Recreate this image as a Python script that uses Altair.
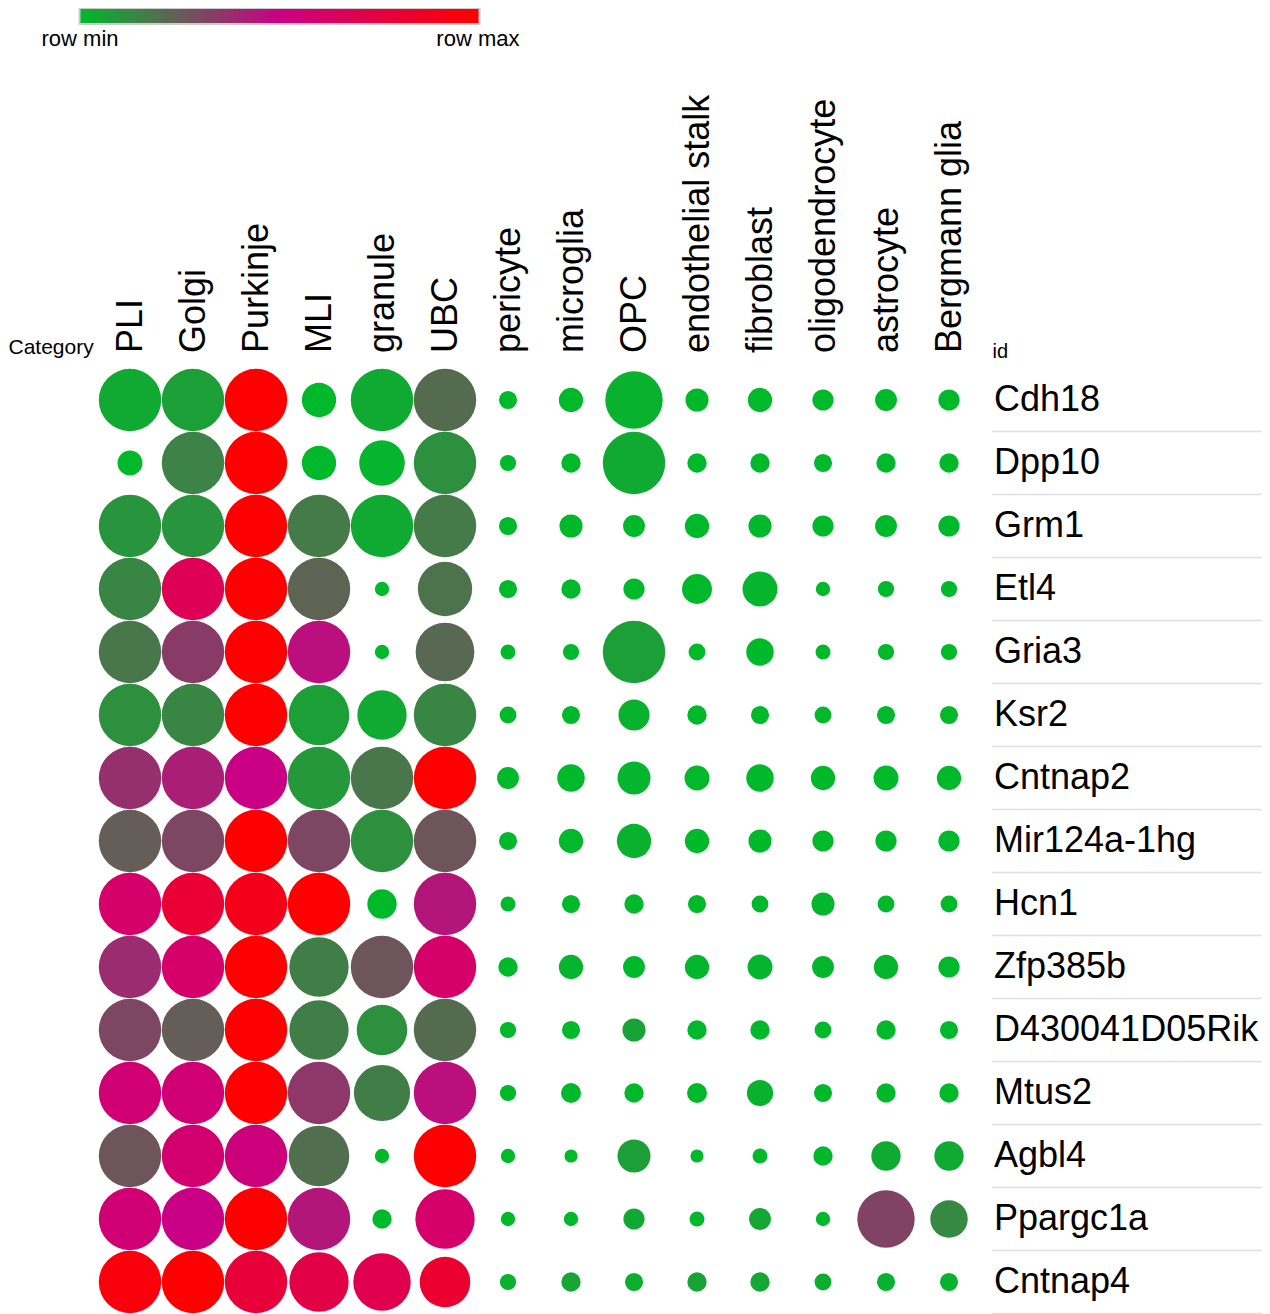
import pandas as pd
import altair as alt

# ── data ─────────────────────────────────────────────────────────────────────

CATEGORIES = [
    "PLI", "Golgi", "Purkinje", "MLI", "granule", "UBC", "pericyte",
    "microglia", "OPC", "endothelial stalk", "fibroblast",
    "oligodendrocyte", "astrocyte", "Bergmann glia",
]

GENES = [
    "Cdh18", "Dpp10", "Grm1", "Etl4", "Gria3", "Ksr2", "Cntnap2",
    "Mir124a-1hg", "Hcn1", "Zfp385b", "D430041D05Rik", "Mtus2", "Agbl4",
    "Ppargc1a", "Cntnap4",
]

# dot size: fraction of cells expressing (1.0 = full cell)
FRACTION = [
    [1.00, 1.00, 1.00, 0.55, 1.00, 1.00, 0.29, 0.39, 0.92, 0.37, 0.39, 0.34, 0.35, 0.34],
    [0.40, 1.00, 1.00, 0.55, 0.73, 1.00, 0.26, 0.31, 1.00, 0.31, 0.31, 0.29, 0.31, 0.31],
    [1.00, 1.00, 1.00, 1.00, 1.00, 1.00, 0.29, 0.37, 0.35, 0.39, 0.37, 0.34, 0.35, 0.34],
    [1.00, 1.00, 1.00, 1.00, 0.23, 0.87, 0.29, 0.31, 0.34, 0.48, 0.56, 0.23, 0.26, 0.26],
    [1.00, 1.00, 1.00, 1.00, 0.23, 0.94, 0.24, 0.26, 1.00, 0.27, 0.44, 0.24, 0.26, 0.26],
    [1.00, 1.00, 1.00, 0.97, 0.79, 1.00, 0.27, 0.29, 0.50, 0.31, 0.29, 0.27, 0.29, 0.29],
    [1.00, 1.00, 1.00, 1.00, 1.00, 1.00, 0.35, 0.44, 0.53, 0.40, 0.44, 0.39, 0.40, 0.39],
    [1.00, 1.00, 1.00, 1.00, 1.00, 1.00, 0.29, 0.39, 0.55, 0.39, 0.37, 0.34, 0.34, 0.34],
    [1.00, 1.00, 1.00, 1.00, 0.47, 1.00, 0.24, 0.29, 0.31, 0.29, 0.27, 0.37, 0.27, 0.27],
    [1.00, 1.00, 1.00, 0.95, 1.00, 1.00, 0.31, 0.39, 0.35, 0.39, 0.40, 0.35, 0.39, 0.34],
    [1.00, 1.00, 1.00, 0.95, 0.81, 1.00, 0.26, 0.29, 0.37, 0.31, 0.31, 0.27, 0.31, 0.29],
    [1.00, 1.00, 1.00, 1.00, 0.90, 1.00, 0.26, 0.32, 0.31, 0.32, 0.42, 0.29, 0.31, 0.31],
    [1.00, 1.00, 1.00, 0.97, 0.23, 1.00, 0.23, 0.21, 0.53, 0.21, 0.24, 0.31, 0.47, 0.47],
    [1.00, 1.00, 1.00, 1.00, 0.31, 0.95, 0.23, 0.23, 0.34, 0.24, 0.35, 0.23, 0.92, 0.60],
    [1.00, 1.00, 1.00, 0.95, 0.92, 0.81, 0.26, 0.31, 0.29, 0.31, 0.31, 0.27, 0.29, 0.29],
]

# dot colour: expression scaled within the row (0 = row min, 1 = row max)
ROW_SCALED = [
    [0.04, 0.07, 1.00, 0.00, 0.04, 0.21, 0.00, 0.00, 0.02, 0.00, 0.00, 0.00, 0.00, 0.00],
    [0.00, 0.15, 1.00, 0.00, 0.01, 0.11, 0.00, 0.00, 0.04, 0.00, 0.00, 0.00, 0.00, 0.00],
    [0.10, 0.10, 1.00, 0.17, 0.04, 0.17, 0.00, 0.00, 0.00, 0.00, 0.00, 0.00, 0.00, 0.00],
    [0.14, 0.68, 1.00, 0.23, 0.00, 0.19, 0.00, 0.00, 0.00, 0.00, 0.01, 0.00, 0.00, 0.00],
    [0.18, 0.34, 1.00, 0.46, 0.00, 0.22, 0.00, 0.00, 0.07, 0.00, 0.00, 0.00, 0.00, 0.00],
    [0.11, 0.14, 1.00, 0.07, 0.04, 0.14, 0.00, 0.00, 0.02, 0.00, 0.00, 0.00, 0.00, 0.00],
    [0.37, 0.42, 0.50, 0.09, 0.18, 1.00, 0.00, 0.00, 0.01, 0.00, 0.00, 0.00, 0.00, 0.00],
    [0.25, 0.31, 1.00, 0.31, 0.11, 0.27, 0.00, 0.00, 0.02, 0.00, 0.00, 0.00, 0.00, 0.00],
    [0.60, 0.80, 0.90, 1.00, 0.00, 0.44, 0.00, 0.00, 0.00, 0.00, 0.00, 0.01, 0.00, 0.00],
    [0.38, 0.60, 1.00, 0.16, 0.27, 0.60, 0.00, 0.01, 0.00, 0.01, 0.01, 0.01, 0.01, 0.00],
    [0.31, 0.25, 1.00, 0.16, 0.11, 0.21, 0.00, 0.00, 0.06, 0.00, 0.00, 0.00, 0.00, 0.00],
    [0.56, 0.56, 1.00, 0.35, 0.16, 0.46, 0.00, 0.00, 0.00, 0.00, 0.02, 0.00, 0.00, 0.00],
    [0.27, 0.58, 0.53, 0.20, 0.00, 1.00, 0.00, 0.00, 0.07, 0.00, 0.00, 0.00, 0.04, 0.04],
    [0.56, 0.50, 1.00, 0.44, 0.00, 0.60, 0.00, 0.00, 0.04, 0.00, 0.05, 0.00, 0.32, 0.13],
    [0.95, 1.00, 0.78, 0.73, 0.71, 0.82, 0.02, 0.05, 0.03, 0.06, 0.05, 0.03, 0.02, 0.02],
]

LEGEND_ENDS = ["row min", "row max"]

# ── styling ──────────────────────────────────────────────────────────────────

FONT = "Liberation Sans"
GREEN = "#00B92B"
MAGENTA = "#CA0084"
RED = "#FF0000"
SEP_GRAY = "#e0e0e0"

CELL = 63
PLOT_W = CELL * len(CATEGORIES)
PLOT_H = CELL * len(GENES)
PAD_LEFT = 90.5
PAD_TOP = 360.5
TOTAL_W = 1254
LABEL_SIZE = 36
# caption is wider than the bar; the legend box starts at the caption's edge
CAPTION_OVERHANG = 38.5

rows = []
for gene, fracs, scaled in zip(GENES, FRACTION, ROW_SCALED):
    for cat, f, s in zip(CATEGORIES, fracs, scaled):
        rows.append({"id": gene, "Category": cat, "fraction": f, "scaled": s})
df = pd.DataFrame(rows)

band = alt.Scale(paddingInner=0, paddingOuter=0)

y_axis = alt.Axis(
    orient="right", ticks=False, domain=False,
    labelFontSize=LABEL_SIZE, labelFont=FONT, labelColor="black",
    labelPadding=13, labelLimit=400,
    title="id", titleAngle=0, titleFontSize=20, titleFont=FONT,
    titleFontWeight="normal", titleColor="black", titleAlign="left",
    titleBaseline="alphabetic", titleX=11.5, titleY=-11.5,
)

x_axis = alt.Axis(
    orient="top", ticks=False, domain=False,
    labelAngle=-90, labelFontSize=LABEL_SIZE, labelFont=FONT,
    labelColor="black", labelPadding=16, labelLimit=400,
    title="Category", titleAngle=0, titleFontSize=21, titleFont=FONT,
    titleFontWeight="normal", titleColor="black", titleAlign="left",
    titleBaseline="alphabetic", titleX=-PAD_LEFT, titleY=-15,
)

# the two end captions sit centred under the bar ends; non-breaking spaces
# keep them apart in a single legend title line
legend_caption = LEGEND_ENDS[0] + "\u00a0" * 52 + LEGEND_ENDS[1]

colour = alt.Color(
    "scaled:Q",
    scale=alt.Scale(domain=[0, 0.5, 1], range=[GREEN, MAGENTA, RED],
                    interpolate="rgb"),
    legend=alt.Legend(
        orient="none", direction="horizontal",
        legendX=80 - 8 - PAD_LEFT - CAPTION_OVERHANG, legendY=-PAD_TOP,
        gradientLength=400, gradientThickness=16,
        gradientStrokeColor="#cccccc", gradientStrokeWidth=2,
        values=[0, 1], labelExpr="''", labelFontSize=1, labelOffset=0,
        padding=0,
        title=legend_caption, titleOrient="bottom", titleAnchor="middle",
        titleAlign="center", titleBaseline="top", titlePadding=4,
        titleFontSize=22, titleFont=FONT, titleFontWeight="normal",
        titleColor="black", titleLimit=700,
    ),
)

dots = (
    alt.Chart(df)
    .mark_circle(opacity=1)
    .encode(
        x=alt.X("Category:N", sort=CATEGORIES, scale=band, axis=x_axis),
        y=alt.Y("id:N", sort=GENES, scale=band, axis=y_axis),
        # circle symbol size is the square of its diameter
        size=alt.Size(
            "fraction:Q",
            scale=alt.Scale(type="pow", exponent=2, domain=[0, 1],
                            range=[0, 3900]),
            legend=None,
        ),
        color=colour,
    )
)

# light separators under each row label
separators = (
    alt.Chart(pd.DataFrame({"id": GENES}))
    .mark_rule(color=SEP_GRAY, strokeWidth=1.5)
    .encode(
        y=alt.Y("id:N", sort=GENES, scale=band, axis=y_axis, bandPosition=1),
        x=alt.value(PLOT_W + 11.5),
        x2=alt.value(TOTAL_W - PAD_LEFT),
    )
)

chart = (
    alt.layer(separators, dots)
    .properties(
        width=PLOT_W, height=PLOT_H,
        autosize=alt.AutoSizeParams(type="none"),
        padding={"left": PAD_LEFT, "top": PAD_TOP,
                 "right": TOTAL_W - PAD_LEFT - PLOT_W, "bottom": 1},
    )
    .configure(font=FONT, background="white")
    .configure_view(strokeWidth=0)
)

chart.save("out.html", embed_options={"renderer": "svg", "actions": False})
